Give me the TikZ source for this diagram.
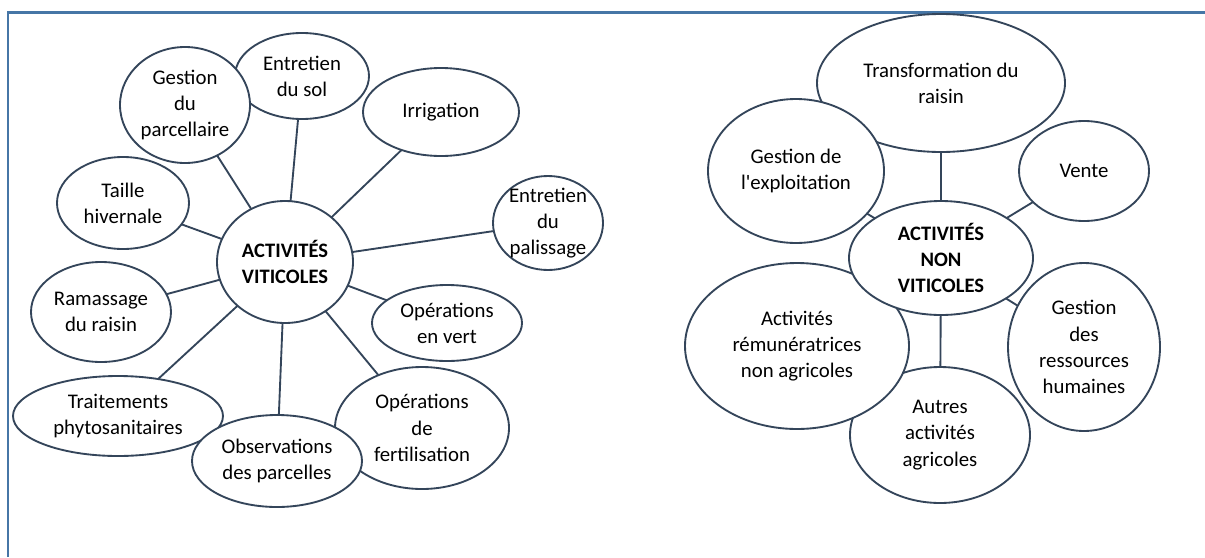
\documentclass[tikz,border=0pt]{standalone}
\usepackage{fontspec}
\setmainfont{Carlito}
\usetikzlibrary{shapes.geometric}
\pgfdeclarelayer{bg}
\pgfsetlayers{bg,main}
\definecolor{edgec}{HTML}{34455A}
\definecolor{framec}{HTML}{4676A6}
\tikzset{
  bub/.style n args={2}{ellipse, draw=edgec, line width=1.4pt, fill=white,
     inner sep=0pt, outer sep=0pt, minimum width=#1*1.5pt, minimum height=#2*1.5pt},
  txt/.style={align=center, inner sep=0pt, font=\fontsize{15.6}{19.6}\selectfont, text=black},
  hub/.style={txt, font=\fontsize{15.4}{19.2}\selectfont\bfseries},
  conn/.style={draw=edgec, line width=1.4pt},
  framel/.style={draw=framec, line width=2pt}
}
\begin{document}
\begin{tikzpicture}[x=0.75pt,y=-0.75pt]
\useasboundingbox (0,0) rectangle (1205,557);
\draw[framel] (8,557) -- (8,12.5) -- (1205,12.5);

% ---------- left diagram ----------
\node[bub={67}{43}] (sol) at (302,76) {};
\node[bub={65}{58}] (parc) at (185,105) {};
\node[bub={78}{44}] (irr) at (441,112) {};
\node[bub={66}{46}] (taille) at (123,203) {};
\node[bub={55}{47}] (pal) at (548,223) {};
\node[bub={70}{50}] (ram) at (101,312) {};
\node[bub={75}{38}] (vert) at (447,323) {};
\node[bub={105}{40}] (trait) at (118,416) {};
\node[bub={87}{61}] (fert) at (422,428) {};
\node[bub={85}{46}] (obs) at (277,461) {};
\node[bub={68}{61}] (vit) at (285,262) {};

\node[txt] (tsol) at (sol) {Entretien\\du sol};
\node[txt] (tparc) at (parc) {Gestion\\du\\parcellaire};
\node[txt] (tirr) at (irr) {Irrigation};
\node[txt] (ttaille) at (taille) {Taille\\hivernale};
\node[txt] (tpal) at (pal) {Entretien\\du\\palissage};
\node[txt] (tram) at (ram) {Ramassage\\du raisin};
\node[txt] (tvert) at (vert) {Opérations\\en vert};
\node[txt] (ttrait) at (trait) {Traitements\\phytosanitaires};
\node[txt] (tfert) at (fert) {Opérations\\de\\fertilisation};
\node[txt] (tobs) at (obs) {Observations\\des parcelles};
\node[hub] (tvit) at (vit) {ACTIVITÉS\\VITICOLES};

% ---------- right diagram ----------
\node[bub={124}{69}] (transf) at (941,83) {};
\node[bub={88}{72}] (gexp) at (796,171) {};
\node[bub={65}{50}] (vente) at (1084,171) {};
\node[bub={90}{68}] (autres) at (940,435) {};
\node[bub={112}{83}] (remu) at (797,346) {};
\node[bub={76}{84}] (grh) at (1084,347) {};
\node[bub={92}{57}] (nvit) at (941,258) {};

\node[txt] (ttransf) at (transf) {Transformation du\\raisin};
\node[txt] (tgexp) at (gexp) {Gestion de\\l\textquotesingle exploitation};
\node[txt] (tvente) at (vente) {Vente};
\node[txt] (tautres) at (autres) {Autres\\activités\\agricoles};
\node[txt] (tremu) at (remu) {Activités\\rémunératrices\\non agricoles};
\node[txt] (tgrh) at (grh) {Gestion\\des\\ressources\\humaines};
\node[hub] (tnvit) at (nvit) {ACTIVITÉS\\NON\\VITICOLES};

% ---------- connectors ----------
\begin{pgfonlayer}{bg}
\foreach \s in {sol,parc,irr,taille,pal,ram,vert,trait,fert,obs}
  \draw[conn] (vit.center) -- (\s.center);
\foreach \s in {transf,gexp,vente,autres,grh}
  \draw[conn] (nvit.center) -- (\s.center);
\end{pgfonlayer}
\end{tikzpicture}
\end{document}
